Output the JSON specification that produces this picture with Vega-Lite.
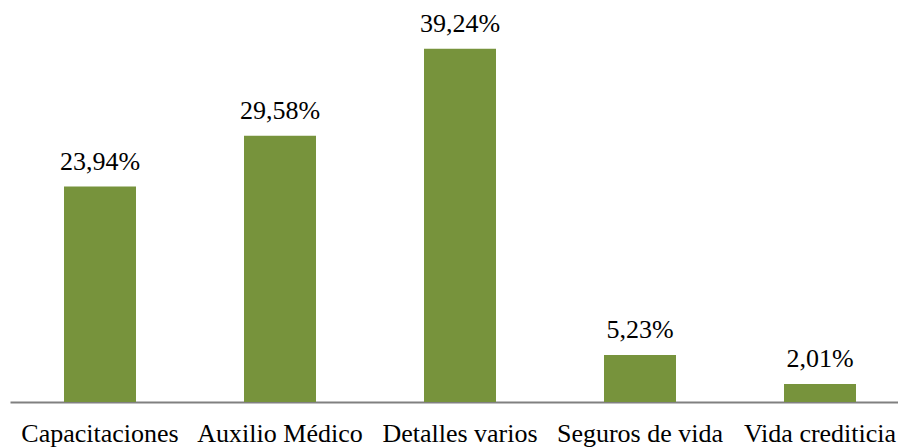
{
  "$schema": "https://vega.github.io/schema/vega-lite/v6.json",
  "width": 900,
  "height": 360,
  "autosize": "none",
  "padding": {"left": 10, "top": 42, "right": 0, "bottom": 45},
  "background": "white",
  "config": {"view": {"stroke": null}, "font": "Liberation Serif", "text": {"font": "Liberation Serif"}},
  "data": {
    "values": [
      {"categoria": "Capacitaciones", "valor": 23.94, "etiqueta": "23,94%"},
      {"categoria": "Auxilio Médico", "valor": 29.58, "etiqueta": "29,58%"},
      {"categoria": "Detalles varios", "valor": 39.24, "etiqueta": "39,24%"},
      {"categoria": "Seguros de vida", "valor": 5.23, "etiqueta": "5,23%"},
      {"categoria": "Vida crediticia", "valor": 2.01, "etiqueta": "2,01%"}
    ]
  },
  "encoding": {
    "x": {
      "field": "categoria",
      "type": "nominal",
      "sort": null,
      "scale": {"paddingInner": 0.6, "paddingOuter": 0.3},
      "axis": {
        "title": null,
        "labelAngle": 0,
        "ticks": false,
        "tickSize": 0,
        "domainColor": "#808080",
        "domainWidth": 2,
        "labelFont": "Liberation Serif",
        "labelFontSize": 26,
        "labelColor": "#000000",
        "labelBaseline": "alphabetic",
        "labelPadding": 39,
        "labelLimit": 0
      }
    },
    "y": {
      "field": "valor",
      "type": "quantitative",
      "scale": {"domain": [0, 40]},
      "axis": null
    }
  },
  "layer": [
    {"mark": {"type": "bar", "color": "#77933C"}},
    {
      "mark": {
        "type": "text",
        "font": "Liberation Serif",
        "fontSize": 26,
        "color": "#000000",
        "baseline": "alphabetic",
        "dy": -17
      },
      "encoding": {"text": {"field": "etiqueta"}}
    }
  ]
}
